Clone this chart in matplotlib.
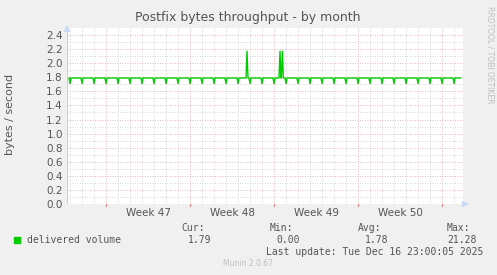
import matplotlib
matplotlib.use("Agg")
import matplotlib.pyplot as plt
import numpy as np

# Data (x in days relative to Mon Nov 17 2025 00:00)
x_start, x_end = -3.25, 29.75
baseline = 1.79
dip_days = [-3, -2, -1, 0, 1, 2, 3, 4, 5, 6, 7, 8, 9, 10, 11, 12, 13, 14, 15,
            16, 17, 18, 19, 20, 21, 22, 23, 24, 25, 26, 27, 28, 29]
dip_values = [1.71] * len(dip_days)
spike_days = [11.75, 14.5, 14.7]
spike_values = [2.17, 2.17, 2.17]
week_starts = [0, 7, 14, 21, 28]
week_labels = ["Week 47", "Week 48", "Week 49", "Week 50"]
yticks = [0.0, 0.2, 0.4, 0.6, 0.8, 1.0, 1.2, 1.4, 1.6, 1.8, 2.0, 2.2, 2.4]

# build polyline vertices
events = [(d, v) for d, v in zip(dip_days, dip_values)] + \
         [(d, v) for d, v in zip(spike_days, spike_values)]
events.sort()
step = 1 / 12
xs = [x_start + 0.2]
ys = [baseline]
for d, v in events:
    xs += [d - step, d, d + step]
    ys += [baseline, v, baseline]
xs.append(x_end - 0.2)
ys.append(baseline)

W, H = 497, 275
fig = plt.figure(figsize=(W / 100, H / 100), dpi=100, facecolor="#F0F0F0")
L, R, T, B = 67, 463, 28, 204
ax = fig.add_axes([L / W, 1 - B / H, (R - L) / W, (B - T) / H])
ax.set_facecolor("white")
ax.set_xlim(x_start, x_end)
ax.set_ylim(0, 2.5)

# grids
for d in range(-3, 30):
    if d not in week_starts:
        ax.axvline(d, color="#C8C8C8", lw=0.6, ls=(0, (1, 2)), zorder=1)
for yy in np.arange(0.1, 2.5, 0.2):
    ax.axhline(yy, color="#C8C8C8", lw=0.6, ls=(0, (1, 2)), zorder=1)
for yy in yticks[1:]:
    ax.axhline(yy, color="#E8A0A0", lw=0.6, ls=(0, (1, 2)), zorder=1)
for d in week_starts:
    ax.axvline(d, color="#E8A0A0", lw=0.6, ls=(0, (1, 2)), zorder=1)

ax.plot(xs, ys, color="#00CC00", lw=1.0, zorder=3)

for s in ax.spines.values():
    s.set_visible(False)
ax.axhline(0, color="#C8C8F0", lw=0.8, ls=(0, (1, 1)), zorder=2)
ax.axvline(x_start, color="#C8C8F0", lw=0.8, zorder=2)
ax.annotate("", xy=(x_end + 0.7, 0), xytext=(x_end - 0.1, 0),
            arrowprops=dict(arrowstyle="-|>", color="#C8D8F8", lw=0.5), annotation_clip=False)
ax.annotate("", xy=(x_start, 2.58), xytext=(x_start, 2.47),
            arrowprops=dict(arrowstyle="-|>", color="#C8D8F8", lw=0.5), annotation_clip=False)

ax.set_yticks(yticks)
ax.set_yticklabels([f"{v:.1f}" for v in yticks])
ax.set_xticks([w + 3.5 for w in week_starts[:-1]])
ax.set_xticklabels(week_labels)
ax.tick_params(axis="both", length=0, labelsize=7.5, labelcolor="#555555", pad=3)
for d in week_starts:
    ax.plot([d, d], [0, -0.03], color="#E08080", lw=0.8, clip_on=False)

fig.text(248 / W, 1 - 18 / H, "Postfix bytes throughput - by month", ha="center", va="center",
         fontsize=9, color="#555555")
fig.text(10 / W, 1 - 114 / H, "bytes / second", rotation=90, ha="center", va="center",
         fontsize=8, color="#555555")
fig.text(490 / W, 1 - 55 / H, "RRDTOOL / TOBI OETIKER", rotation=270, ha="center", va="center",
         fontsize=5.5, color="#C0C0C0")

mono = "DejaVu Sans Mono"
fs = 7
tc = "#555555"
fig.patches.append(plt.Rectangle((14 / W, 1 - 243 / H), 6 / W, 6 / H, transform=fig.transFigure,
                                 color="#00CC00"))
fig.text(27 / W, 1 - 240 / H, "delivered volume", family=mono, fontsize=fs, color=tc, va="center")
cols = [("Cur:", "1.79", 205, 211), ("Min:", "0.00", 293, 300), ("Avg:", "1.78", 381, 388),
        ("Max:", "21.28", 470, 477)]
for h, v, hx, vx in cols:
    fig.text(hx / W, 1 - 228 / H, h, family=mono, fontsize=fs, color=tc, ha="right", va="center")
    fig.text(vx / W, 1 - 240 / H, v, family=mono, fontsize=fs, color=tc, ha="right", va="center")
fig.text(483 / W, 1 - 252 / H, "Last update: Tue Dec 16 23:00:05 2025", family=mono, fontsize=fs,
         color=tc, ha="right", va="center")
fig.text(248 / W, 1 - 264 / H, "Munin 2.0.67", fontsize=5.5, color="#C0C0C0", ha="center", va="center")

fig.savefig("out.png", dpi=100, facecolor=fig.get_facecolor())
